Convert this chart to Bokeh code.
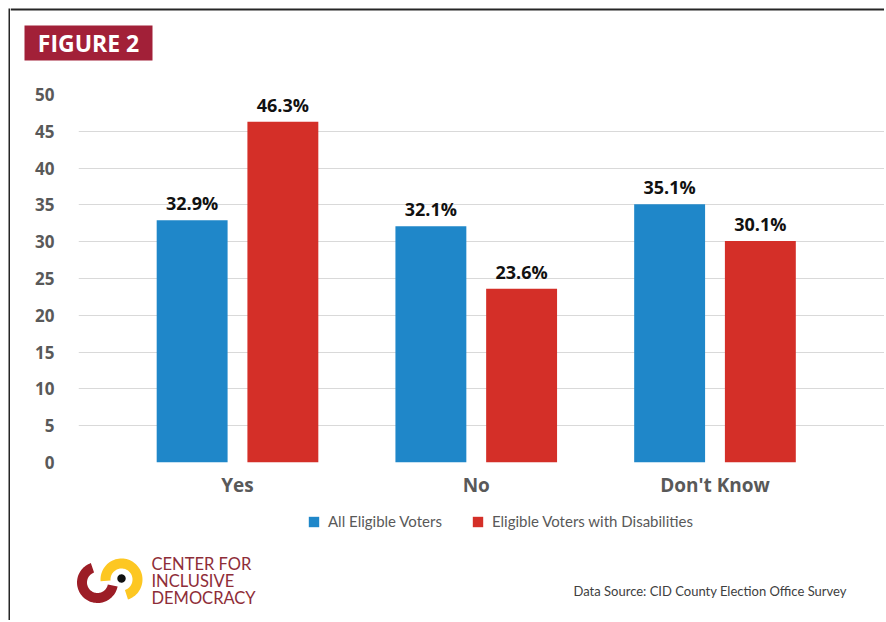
import numpy as np
from bokeh.plotting import figure
from bokeh.layouts import row, column
from bokeh.models import (Range1d, ColumnDataSource, LabelSet, Label, Legend,
                          LegendItem, BoxAnnotation, PolyAnnotation, FixedTicker)
from bokeh.transform import dodge
from bokeh.core.properties import value
from bokeh.embed import file_html
from bokeh.resources import INLINE

# ---- data ----
categories = ["Yes", "No", "Don't Know"]
all_voters = [32.9, 32.1, 35.1]
disability_voters = [46.3, 23.6, 30.1]
series_names = ["All Eligible Voters", "Eligible Voters with Disabilities"]
y_ticks = [0, 5, 10, 15, 20, 25, 30, 35, 40, 45, 50]

BLUE = "#1F87C9"
RED = "#D42F28"
GRAY = "#595959"
W, H = 884, 620
TOP_H = 66      # page rows 0..66 hold the badge
MAIN_B = 500    # main chart occupies page rows 66..500

def Y(py):  # page pixel row -> bottom-up coordinate used by decoration panels
    return H - py

def deco_fig(x0, x1, y0, y1):
    f = figure(width=x1 - x0, height=y1 - y0, x_range=Range1d(x0, x1),
               y_range=Range1d(Y(y1), Y(y0)), output_backend="svg", toolbar_location=None,
               min_border=0, min_border_left=0, min_border_right=0,
               min_border_top=0, min_border_bottom=0, frame_align=False)
    f.axis.visible = False
    f.grid.visible = False
    f.outline_line_color = None
    return f

kw = dict(fill_alpha=1, line_color=None)
BORDER = "#262626"

# ---- left strip with the frame border ----
strip = deco_fig(0, 10, 0, H)
strip.add_layout(BoxAnnotation(left=8, right=10, bottom=Y(H), top=Y(8), fill_color=BORDER, **kw))

# ---- top band: border + badge ----
top = deco_fig(10, W, 0, TOP_H)
top.add_layout(BoxAnnotation(left=10, right=W, bottom=Y(10), top=Y(8), fill_color=BORDER, **kw))
top.add_layout(BoxAnnotation(left=24, right=152, bottom=Y(60), top=Y(25), fill_color="#A22038", **kw))
top.add_layout(Label(x=88, y=Y(42.5), text="FIGURE 2", text_align="center",
                     text_baseline="middle", text_font="Open Sans", text_font_style="bold",
                     text_font_size="23px", text_color="white"))

# ---- main chart ----
pos = list(range(len(categories)))
src = ColumnDataSource(dict(
    pos=pos,
    a=all_voters,
    d=disability_voters,
    a_txt=[f"{v}%" for v in all_voters],
    d_txt=[f"{v}%" for v in disability_voters],
))

p = figure(width=W - 10, height=MAIN_B - TOP_H,
           x_range=Range1d(-0.666, len(categories) - 1 + 0.710),
           y_range=Range1d(0, 50),
           output_backend="svg", toolbar_location=None, frame_align=False,
           min_border_left=68, min_border_right=0, min_border_top=94 - TOP_H,
           min_border_bottom=MAIN_B - 469)
p.outline_line_color = None

off = 0.19
bw = 0.297
r1 = p.vbar(x=dodge("pos", -off), top="a", width=bw, source=src,
            fill_color=BLUE, line_color=None)
r2 = p.vbar(x=dodge("pos", off), top="d", width=bw, source=src,
            fill_color=RED, line_color=None)

for col, txt, o in (("a", "a_txt", -off), ("d", "d_txt", off)):
    p.add_layout(LabelSet(x=dodge("pos", o), y=col, text=txt, source=src,
                          text_align="center", text_baseline="alphabetic", y_offset=10,
                          text_font=value("Open Sans"), text_font_style="bold",
                          text_font_size="18px", text_color="#111111"))

ticker = FixedTicker(ticks=y_ticks)
p.yaxis.ticker = ticker
p.ygrid.ticker = ticker
p.ygrid.grid_line_color = "#D9D9D9"
p.ygrid.grid_line_width = 1
p.xgrid.grid_line_color = None
p.xaxis.ticker = FixedTicker(ticks=pos)
p.xaxis.major_label_overrides = {i: c for i, c in zip(pos, categories)}
for ax in (p.xaxis, p.yaxis):
    ax.axis_line_color = None
    ax.major_tick_line_color = None
    ax.minor_tick_line_color = None
    ax.major_label_text_font = "Open Sans"
    ax.major_label_text_font_style = "bold"
    ax.major_label_text_color = GRAY
p.yaxis.major_label_text_font_size = "17px"
p.yaxis.major_label_standoff = 18
p.xaxis.major_label_text_font_size = "19px"
p.xaxis.major_label_standoff = 3

# ---- bottom band: legend, logo, source ----
bot = deco_fig(10, W, MAIN_B, H)
nan = float("nan")
k1 = bot.vbar(x=[nan], top=[nan], width=1, fill_color=BLUE, line_color=None)
k2 = bot.vbar(x=[nan], top=[nan], width=1, fill_color=RED, line_color=None)
legend = Legend(items=[LegendItem(label=series_names[0], renderers=[k1]),
                       LegendItem(label=series_names[1], renderers=[k2])],
                orientation="horizontal", location=(297, Y(530)),
                glyph_width=13, glyph_height=13, label_standoff=8, spacing=29,
                padding=0, margin=0, border_line_color=None, background_fill_alpha=0,
                label_text_font="Lato", label_text_font_size="15px", label_text_color=GRAY)
bot.add_layout(legend, "center")

bot.add_layout(Label(x=573, y=Y(590), text="Data Source: CID County Election Office Survey",
                     text_align="left", text_baseline="alphabetic", text_font="Lato",
                     text_font_size="13px", text_color="#404040"))

def arc_poly(cx, cy, r_in, r_out, a0, a1, n=60):
    t = np.radians(np.linspace(a0, a1, n))
    xs = np.concatenate([cx + r_out * np.cos(t), cx + r_in * np.cos(t[::-1])])
    ys = np.concatenate([Y(cy) + r_out * np.sin(t), Y(cy) + r_in * np.sin(t[::-1])])
    return list(xs), list(ys)

xs, ys = arc_poly(121, 579, 11, 21, -72, 185)
bot.add_layout(PolyAnnotation(xs=xs, ys=ys, fill_color="#FDC722", **kw))
xs, ys = arc_poly(97, 582, 10.5, 20.5, 109, 349)
bot.add_layout(PolyAnnotation(xs=xs, ys=ys, fill_color="#9C1D26", **kw))
t = np.radians(np.linspace(0, 360, 40))
bot.add_layout(PolyAnnotation(xs=list(121 + 4.2 * np.cos(t)), ys=list(Y(578) + 4.2 * np.sin(t)),
                              fill_color="#111111", **kw))

for i, line in enumerate(["CENTER FOR", "INCLUSIVE", "DEMOCRACY"]):
    bot.add_layout(Label(x=151, y=Y(563 + 17 * i), text=line, text_align="left",
                         text_baseline="middle", text_font="Lato",
                         text_font_size="16.5px", text_color="#8E2D38"))

layout = row(strip, column(top, p, bot))
open("out.html", "w").write(file_html(layout, INLINE))
